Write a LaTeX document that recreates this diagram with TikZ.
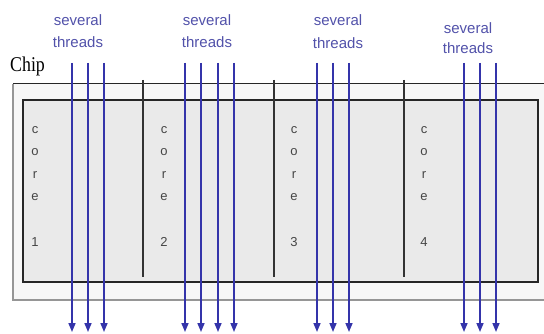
\documentclass[tikz,border=0pt]{standalone}
\usepackage{fontspec}
\setmainfont{Liberation Sans}
\newfontfamily\chipfont{Liberation Serif}
\usetikzlibrary{arrows.meta}
\definecolor{thrblue}{RGB}{52,52,170}
\definecolor{lblblue}{RGB}{82,82,170}
\definecolor{corefill}{RGB}{234,234,234}
\definecolor{chipfill}{RGB}{247,247,247}
\definecolor{coretext}{RGB}{70,70,70}
\definecolor{edgegray}{RGB}{150,150,150}
\tikzset{
  thread/.style={draw=thrblue, line width=1.6pt, -{Triangle[length=9pt,width=7pt]}},
  thrlabel/.style={text=lblblue, font=\fontsize{15}{18}\selectfont, inner sep=0pt, anchor=base},
  corelbl/.style={text=coretext, font=\fontsize{13}{22.6}\selectfont, align=center, inner sep=0pt, anchor=north},
  divider/.style={draw=black!80, line width=1.3pt},
}
\begin{document}
\begin{tikzpicture}[x=1pt,y=-1pt]
\useasboundingbox (0,0) rectangle (544,334);
\fill[white] (0,0) rectangle (544,334);
% outer chip box
\fill[chipfill] (13,84) rectangle (550,300);
\draw[edgegray, line width=1.2pt] (550,300) -- (13,300) -- (13,84);
\draw[black!85, line width=1pt] (13,84) -- (550,84);
% inner core box
\draw[fill=corefill, draw=black!85, line width=1.8pt] (23,100) rectangle (538,282);
% dividers
\foreach \x in {143,274,404} \draw[divider] (\x,80) -- (\x,277);
% chip label
\node[font=\chipfont\fontsize{21}{24}\selectfont, xscale=0.85, inner sep=0pt, anchor=base west] (chip) at (10,72) {Chip};
% core labels
\node[corelbl] (core1) at (35,126) {c\\o\\r\\e\\ \\1};
\node[corelbl] (core2) at (164,126) {c\\o\\r\\e\\ \\2};
\node[corelbl] (core3) at (294,126) {c\\o\\r\\e\\ \\3};
\node[corelbl] (core4) at (424,126) {c\\o\\r\\e\\ \\4};
% thread labels
\node[thrlabel] (sev1) at (78,26) {several};
\node[thrlabel] (thr1) at (78,48) {threads};
\node[thrlabel] (sev2) at (207,26) {several};
\node[thrlabel] (thr2) at (207,48) {threads};
\node[thrlabel] (sev3) at (338,26) {several};
\node[thrlabel] (thr3) at (338,49) {threads};
\node[thrlabel] (sev4) at (468,34) {several};
\node[thrlabel] (thr4) at (468,54) {threads};
% threads
\foreach \x [count=\i] in {72,88,104,185,201,218,234,317,333,349,464,480,496} {
  \coordinate (t\i) at (\x,63);
  \coordinate (b\i) at (\x,332);
  \draw[thread] (t\i) -- (b\i);
}
\end{tikzpicture}
\end{document}
